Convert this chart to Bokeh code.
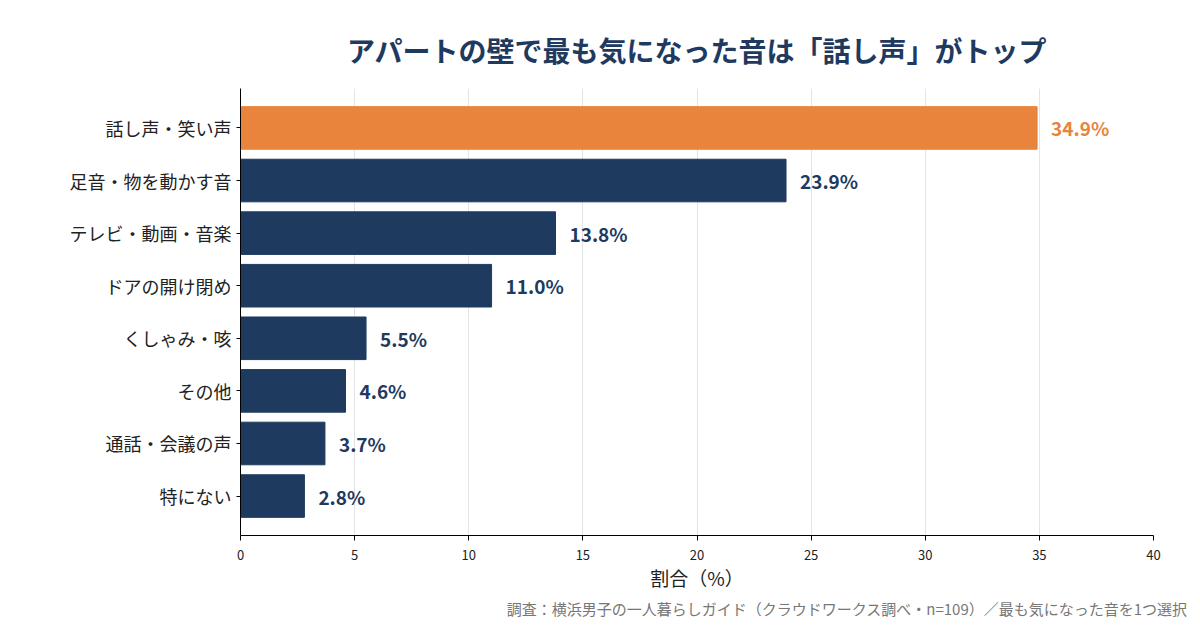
from bokeh.plotting import figure
from bokeh.models import ColumnDataSource, Title
from bokeh.core.properties import value
from bokeh.embed import file_html
from bokeh.resources import INLINE

# data
categories = ["話し声・笑い声", "足音・物を動かす音", "テレビ・動画・音楽", "ドアの開け閉め",
              "くしゃみ・咳", "その他", "通話・会議の声", "特にない"]
shares = [34.9, 23.9, 13.8, 11.0, 5.5, 4.6, 3.7, 2.8]
labels = ["34.9%", "23.9%", "13.8%", "11.0%", "5.5%", "4.6%", "3.7%", "2.8%"]

NAVY = "#1f3a5f"
ORANGE = "#e8843c"
FONT = "Noto Sans CJK JP"

colors = [ORANGE] + [NAVY] * (len(categories) - 1)
src = ColumnDataSource(dict(cat=categories, val=shares, lab=labels, col=colors))

p = figure(y_range=list(reversed(categories)), x_range=(0, 40),
           width=1200, height=620, output_backend="svg", toolbar_location=None,
           min_border_left=240, min_border_right=47, min_border_top=88,
           min_border_bottom=20)
p.y_range.range_padding = 0.25
p.y_range.range_padding_units = "absolute"

p.hbar(y="cat", right="val", height=0.81, color="col", source=src)
p.text(x="val", y="cat", text="lab", text_color="col", source=src,
       x_offset=14, text_baseline="middle", text_font=value(FONT),
       text_font_size="19px", text_font_style="bold")

# title
p.title.text = "アパートの壁で最も気になった音は「話し声」がトップ"
p.title.align = "center"
p.title.text_font = FONT
p.title.text_font_size = "28px"
p.title.text_font_style = "bold"
p.title.text_color = NAVY
p.title.standoff = 38

# axes
p.xaxis.axis_label = "割合（%）"
p.xaxis.axis_label_text_font = FONT
p.xaxis.axis_label_text_font_size = "19px"
p.xaxis.axis_label_text_font_style = "normal"
p.xaxis.axis_label_text_color = "#222222"
p.xaxis.axis_label_standoff = 1
p.xaxis.ticker = [0, 5, 10, 15, 20, 25, 30, 35, 40]
p.xaxis.major_label_text_font = FONT
p.xaxis.major_label_text_font_size = "13px"
p.xaxis.major_label_text_color = "#222222"
p.xaxis.major_label_standoff = 9
p.xaxis.minor_tick_line_color = None
p.xaxis.major_tick_out = 5
p.xaxis.major_tick_in = 0
p.xaxis.axis_line_color = "black"

p.yaxis.major_label_text_font = FONT
p.yaxis.major_label_text_font_size = "18px"
p.yaxis.major_label_text_color = "#222222"
p.yaxis.major_tick_out = 4
p.yaxis.major_tick_in = 0
p.yaxis.axis_line_color = "black"
p.yaxis.major_label_standoff = 5

p.ygrid.grid_line_color = None
p.xgrid.grid_line_color = "#e3e3e3"
p.outline_line_color = None

note = Title(text="調査：横浜男子の一人暮らしガイド（クラウドワークス調べ・n=109）／最も気になった音を1つ選択",
             align="right", text_font=FONT, text_font_size="15px",
             text_font_style="normal", text_color="#777777", offset=-34, standoff=4)
p.add_layout(note, "below")

open("out.html", "w").write(file_html(p, INLINE))
